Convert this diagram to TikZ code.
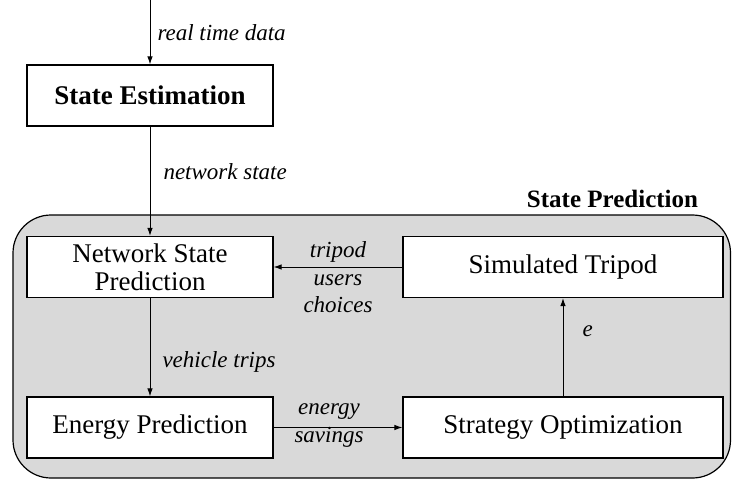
\documentclass[tikz,border=0pt]{standalone}
\usepackage{fontspec}
\setmainfont{Liberation Serif}
\usetikzlibrary{arrows.meta,positioning}

\begin{document}
\begin{tikzpicture}[x=1pt, y=-1pt, >={Latex[length=8pt,width=5.5pt]},
    block/.style={draw, fill=white, line width=1.1pt, minimum height=61pt, align=center, font=\fontsize{27}{28}\selectfont},
    lbl/.style={inner sep=0pt, align=center, font=\fontsize{23}{27.5}\selectfont\itshape},
    flow/.style={->, line width=1pt}]
            \useasboundingbox (0,0) rectangle (732,479);

            \draw[fill=black!15, line width=1.2pt, rounded corners=38pt] (13,215) rectangle (730.5,478);
            \node[inner sep=0pt, font=\fontsize{25}{30}\selectfont\bfseries] (predtitle) at (612.5,199) {State Prediction};

            \node[block, minimum width=246pt, font=\fontsize{27}{28}\selectfont\bfseries] (estim) at (150,95.5) {State Estimation};
            \node[block, minimum width=246pt] (netpred) at (150,267) {Network State\\Prediction};
            \node[block, minimum width=246pt] (energy) at (150,427.5) {Energy Prediction};
            \node[block, minimum width=320pt] (tripod) at (563,267) {Simulated Tripod};
            \node[block, minimum width=320pt] (strategy) at (563,427.5) {Strategy Optimization};

            \coordinate (datain) at (150,0);

            \draw[flow] (datain) -- node[lbl, right=7pt] (rtd) {real time data} (estim);
            \draw[flow] (estim) -- node[lbl, right=13pt, pos=0.41] (nstate) {network state} (netpred);
            \draw[flow] (netpred) -- node[lbl, right=12pt, pos=0.65] (vtrips) {vehicle trips} (energy);
            \draw[flow] (energy) -- node[lbl, xshift=-9pt, yshift=2pt] (esave) {energy\\savings} (strategy);
            \draw[flow] (strategy) -- node[lbl, right=19pt, pos=0.66] (epar) {e} (tripod);
            \draw[flow] (tripod) -- node[lbl, yshift=-10.5pt] (choices) {tripod\\users\\choices} (netpred);
\end{tikzpicture}
\end{document}
